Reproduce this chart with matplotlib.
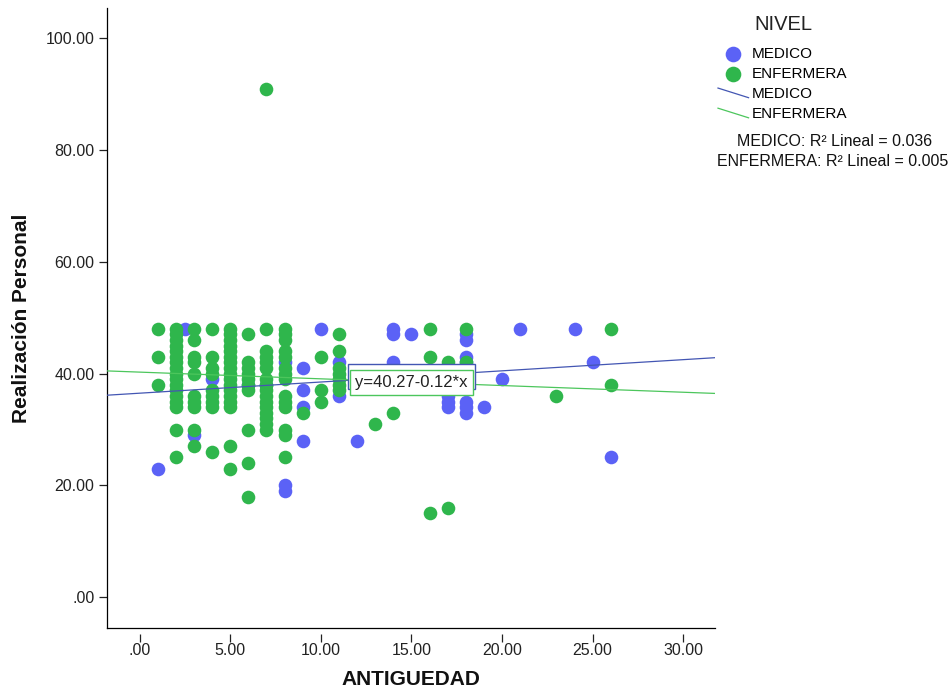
import numpy as np
import matplotlib
matplotlib.use("Agg")
import matplotlib.pyplot as plt
from matplotlib.lines import Line2D
from matplotlib.legend_handler import HandlerBase

plt.rcParams['font.family'] = ['Liberation Sans', 'DejaVu Sans']

# === Data ===
# MEDICO group
medico_x = [1, 2.5, 3, 4, 6, 7,
            8, 8, 8,
            9, 9, 9, 9,
            10, 11, 11, 12,
            14, 14, 14, 15,
            17, 17, 17,
            18, 18, 18, 18, 18, 18, 18,
            19, 20, 21, 24, 25, 26]
medico_y = [23, 48, 29, 39, 38, 38,
            42, 20, 19,
            41, 37, 34, 28,
            48, 42, 36, 28,
            48, 47, 42, 47,
            36, 35, 34,
            47, 46, 43, 42, 35, 34, 33,
            34, 39, 48, 48, 42, 25]

# ENFERMERA group
enf_x = [1, 1, 1,
         2, 2, 2, 2, 2, 2, 2, 2, 2, 2, 2, 2, 2, 2, 2, 2, 2,
         3, 3, 3, 3, 3, 3, 3, 3, 3, 3,
         4, 4, 4, 4, 4, 4, 4, 4, 4,
         5, 5, 5, 5, 5, 5, 5, 5, 5, 5, 5, 5, 5, 5, 5, 5, 5,
         6, 6, 6, 6, 6, 6, 6, 6, 6, 6,
         7, 7, 7, 7, 7, 7, 7, 7, 7, 7, 7, 7, 7, 7, 7, 7,
         8, 8, 8, 8, 8, 8, 8, 8, 8, 8, 8, 8, 8, 8,
         9, 10, 10, 10,
         11, 11, 11, 11, 11, 11, 11,
         13, 14, 16, 16, 16, 17, 17, 18, 18, 23, 26, 26]
enf_y = [48, 43, 38,
         48, 47, 46, 45, 44, 43, 42, 41, 40, 39, 38, 37, 36, 35, 34, 30, 25,
         48, 46, 43, 42, 40, 36, 35, 34, 30, 27,
         48, 43, 41, 40, 37, 36, 35, 34, 26,
         48, 47, 46, 45, 44, 43, 42, 41, 40, 39, 38, 37, 36, 35, 34, 27, 23,
         47, 42, 41, 40, 39, 38, 37, 30, 24, 18,
         91, 48, 44, 43, 42, 41, 39, 38, 37, 36, 35, 34, 33, 32, 31, 30,
         48, 47, 46, 44, 43, 41, 40, 39, 36, 35, 34, 30, 29, 25,
         33, 43, 37, 35,
         47, 44, 41, 40, 39, 38, 37,
         31, 33, 48, 43, 15, 42, 16, 48, 42, 36, 48, 38]

# linear fits (intercept, slope) and R2 per group
medico_fit = (36.50, 0.20)
enf_fit = (40.27, -0.12)
medico_r2 = 0.036
enf_r2 = 0.005

x_ticks = [0, 5, 10, 15, 20, 25, 30]
x_tick_labels = ['.00', '5.00', '10.00', '15.00', '20.00', '25.00', '30.00']
y_ticks = [0, 20, 40, 60, 80, 100]
y_tick_labels = ['.00', '20.00', '40.00', '60.00', '80.00', '100.00']

# colours
blue_pt = '#5B62F6'
green_pt = '#2FB64C'
blue_ln = '#4356B3'
green_ln = '#4CC65C'


class DiagonalLine(HandlerBase):
    """legend handle drawn as a short downward sloping line (SPSS style)"""
    def create_artists(self, legend, orig_handle, xdescent, ydescent,
                       width, height, fontsize, trans):
        ln = Line2D([-xdescent, width - xdescent],
                    [height * 0.95 - ydescent, height * 0.05 - ydescent],
                    color=orig_handle.get_color(), lw=orig_handle.get_linewidth())
        ln.set_transform(trans)
        return [ln]


W, H = 953, 694
fig = plt.figure(figsize=(W / 100, H / 100), dpi=100)
ax = fig.add_axes([107 / W, 1 - 628 / H, (715 - 107) / W, (628 - 8) / H])

ax.set_xlim(-1.8, 31.75)
ax.set_ylim(-5.5, 105.4)

sc_m = ax.scatter(medico_x, medico_y, s=96, c=blue_pt, linewidths=0, zorder=2)
sc_e = ax.scatter(enf_x, enf_y, s=96, c=green_pt, linewidths=0, zorder=3)

xs = np.array(ax.get_xlim())
ln_m, = ax.plot(xs, medico_fit[0] + medico_fit[1] * xs, color=blue_ln, lw=0.9, zorder=4)
ln_e, = ax.plot(xs, enf_fit[0] + enf_fit[1] * xs, color=green_ln, lw=0.9, zorder=4)

# fit-equation boxes centred on their line at x=15; the green one hides the blue one
x_lab = 15
for (b, m), col, txt_col, z in [(medico_fit, blue_ln, 'none', 5),
                                (enf_fit, green_ln, '#222222', 6)]:
    sign = '+' if m >= 0 else '-'
    ax.text(x_lab, b + m * x_lab, f"y={b:.2f}{sign}{abs(m):.2f}*x",
            ha='center', va='center', fontsize=12, color=txt_col, zorder=z,
            bbox=dict(boxstyle='square,pad=0.3', fc='white', ec=col, lw=1.0))

# axes styling
for side in ['top', 'right']:
    ax.spines[side].set_visible(False)
ax.spines['left'].set_linewidth(0.9)
ax.spines['bottom'].set_position(('outward', 4))
ax.spines['bottom'].set_visible(False)
ax.plot([0, 1], [0, 0], transform=ax.transAxes, color='black', lw=0.9, clip_on=False)

ax.set_xticks(x_ticks)
ax.set_xticklabels(x_tick_labels)
ax.set_yticks(y_ticks)
ax.set_yticklabels(y_tick_labels)
ax.tick_params(axis='both', labelsize=11.5, colors='#222222', width=0.9)
ax.tick_params(axis='x', length=6, pad=0.5)
ax.tick_params(axis='y', length=6, pad=3)

ax.set_xlabel('ANTIGUEDAD', fontsize=15, fontweight='bold', color='#111111')
ax.set_ylabel('Realización Personal', fontsize=15, fontweight='bold', color='#111111')
ax.xaxis.set_label_coords(0.5, -0.068)
ax.yaxis.set_label_coords(-0.125, 0.5)

# legend
fig.text(783 / W, 1 - 25 / H, 'NIVEL', ha='center', va='center',
         fontsize=14.5, color='#222222')
leg = fig.legend([sc_m, sc_e, ln_m, ln_e], ['MEDICO', 'ENFERMERA', 'MEDICO', 'ENFERMERA'],
                 handler_map={Line2D: DiagonalLine()},
                 loc='upper left', bbox_to_anchor=(718 / W, 1 - 47 / H),
                 frameon=False, fontsize=11,
                 handlelength=2.0, handletextpad=0.2, labelspacing=0.4,
                 borderpad=0, borderaxespad=0, markerscale=1.15)

fig.text(835 / W, 1 - 141 / H, f"MEDICO: R² Lineal = {medico_r2:.3f}",
         ha='center', va='center', fontsize=11.5, color='#111111')
fig.text(833 / W, 1 - 161 / H, f"ENFERMERA: R² Lineal = {enf_r2:.3f}",
         ha='center', va='center', fontsize=11.5, color='#111111')

fig.savefig('out.png', dpi=100)
